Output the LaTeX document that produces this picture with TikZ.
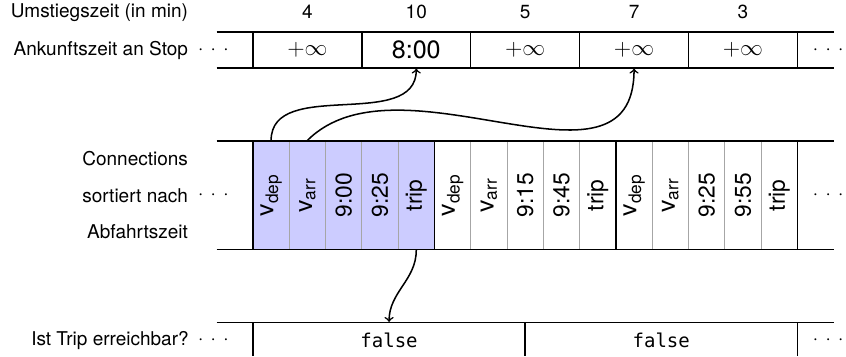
\documentclass[tikz,border=0pt]{standalone}
\usepackage{fontspec}
\setmainfont{TeX Gyre Heros}
\setmonofont{DejaVu Sans Mono}
\usepackage{graphicx}
\usepackage{tikz}
\usetikzlibrary{ arrows, calc, positioning }
\newcommand\vsub[1]{{\fontsize{13}{15}\selectfont v\textsubscript{#1}}}
\newcommand\moredots{${\cdot}\mkern7mu{\cdot}\mkern7mu{\cdot}$}
\tikzset{
>=to, % plain open arrow heads
every node/.style={inner sep=1pt},
stopcell/.style={minimum width=57.3pt, minimum height=19.1pt, inner sep=0pt, font=\fontsize{13.2}{15}\selectfont},
conncell/.style={minimum width=19.1pt, minimum height=57.3pt, inner sep=0pt, font=\large},
tripcell/.style={minimum width=143.25pt, minimum height=19.1pt, inner sep=0pt},
rowlabel/.style={anchor=east, inner sep=0pt},
border/.style={thick},
sep/.style={gray!70},
}

\begin{document}
\begin{tikzpicture}[x=19.1pt,y=19.1pt]
  \useasboundingbox (-6.97,-8.93) rectangle (16.34,0.88);
  % first connection is highlighted
  \fill[blue!20] (0,-3) rectangle (5,-6);
  % grid of the three rows
  \foreach \x in {1,...,14}
    \draw[sep] (\x,-3) -- (\x,-6);
  \foreach \y in {0,-1,-3,-6,-8}
    \draw[border] (-1,\y) -- (16,\y);
  \foreach \x in {0,3,...,15}
    \draw[border] (\x,0) -- (\x,-1);
  \foreach \x in {0,5,10,15}
    \draw[border] (\x,-3) -- (\x,-6);
  \foreach \x in {0,7.5,15}
    \draw[border] (\x,-8) -- (\x,-8.93);

  % labels on the left
  \node[rowlabel] (lchange) at (-1.78,0.52) {Umstiegszeit (in min)};
  \node[rowlabel] (larr) at (-1.78,-0.5) {Ankunftszeit an Stop};
  \node[rowlabel] (lconn1) at (-1.78,-3.5) {Connections};
  \node[rowlabel] (lconn2) at (-1.78,-4.5) {sortiert nach};
  \node[rowlabel] (lconn3) at (-1.78,-5.5) {Abfahrtszeit};
  \node[rowlabel] (ltrip) at (-1.76,-8.5) {Ist Trip erreichbar?};
  \foreach \y [count=\i] in {-0.5,-4.5,-8.5} {
    \node (ldots\i) at (-1.09,\y) {\moredots};
    \node (rdots\i) at (15.85,\y) {\moredots};
  }

  % stops
  \foreach \t [count=\i] in {$+\infty$, 8:00, $+\infty$, $+\infty$, $+\infty$}
    \node[stopcell] (st\i) at (3*\i-1.5,-0.5) {\t};
  \foreach \m [count=\i] in {4,10,5,7,3}
    \node[above=5.5pt of st\i] (ch\i) {\m};

  % connections
  \foreach \t [count=\i] in {\vsub{dep}, \vsub{arr}, 9:00, 9:25, trip,
                             \vsub{dep}, \vsub{arr}, 9:15, 9:45, trip,
                             \vsub{dep}, \vsub{arr}, 9:25, 9:55, trip}
    \node[conncell] (c\i) at (\i-0.5,-4.5) {\rotatebox{90}{\t}};

  % trips
  \node[tripcell] (r1) at (3.75,-8.5) {\texttt{false}};
  \node[tripcell] (r2) at (11.25,-8.5) {\texttt{false}};

  \draw[->, thick] (c1.north) to[out=90,in=-90] (st2.south);
  \draw[->, thick] (c2.north) .. controls +(45:3.6) and +(0,-3.9) .. (st4.south);
  \draw[->, thick] (c5.south) to[out=-90,in=90] (r1.north);
\end{tikzpicture}
\end{document}
